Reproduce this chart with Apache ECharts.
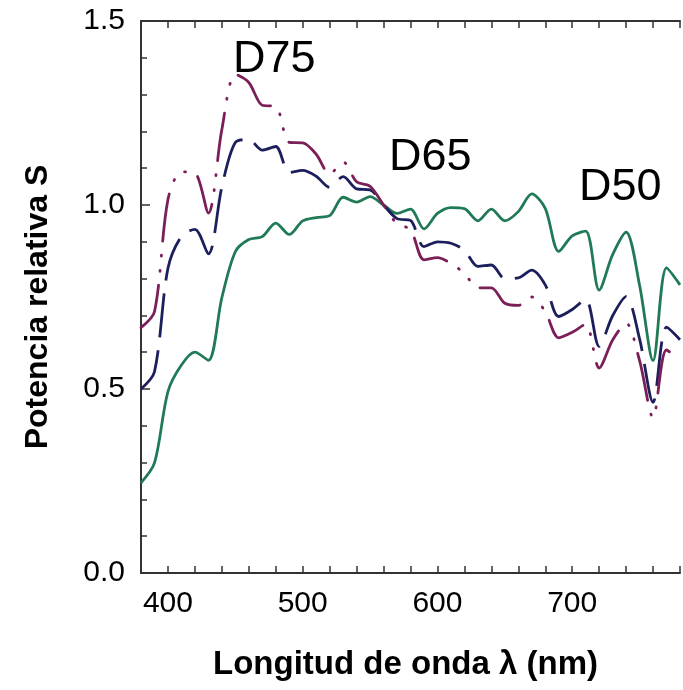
<!DOCTYPE html>
<html>
<head>
<meta charset="utf-8">
<script src="https://cdn.jsdelivr.net/npm/echarts@6/dist/echarts.min.js"></script>
<style>
html,body{margin:0;padding:0;background:#fff;}
#chart{width:683px;height:690px;}
</style>
</head>
<body>
<div id="chart"></div>
<script>
const wavelengths = [380,390,400,410,420,430,440,450,460,470,480,490,500,510,520,530,540,550,560,570,580,590,600,610,620,630,640,650,660,670,680,690,700,710,720,730,740,750,760,770,780];
const d50 = [0.245,0.299,0.493,0.565,0.600,0.578,0.748,0.873,0.906,0.914,0.951,0.920,0.957,0.966,0.971,1.021,1.008,1.023,1.000,0.977,0.989,0.935,0.977,0.993,0.990,0.957,0.989,0.957,0.982,1.030,0.991,0.874,0.916,0.929,0.769,0.865,0.926,0.782,0.577,0.829,0.783];
const d65 = [0.500,0.547,0.828,0.915,0.934,0.867,1.049,1.170,1.178,1.149,1.159,1.088,1.094,1.078,1.048,1.077,1.044,1.041,1.000,0.963,0.958,0.887,0.900,0.896,0.877,0.833,0.837,0.800,0.802,0.823,0.783,0.697,0.716,0.744,0.616,0.699,0.751,0.636,0.464,0.668,0.634];
const d75 = [0.667,0.710,1.015,1.090,1.087,0.978,1.205,1.355,1.333,1.271,1.268,1.170,1.169,1.138,1.084,1.117,1.063,1.051,1.000,0.949,0.933,0.851,0.857,0.841,0.814,0.775,0.775,0.733,0.727,0.750,0.710,0.639,0.654,0.676,0.557,0.633,0.679,0.577,0.422,0.606,0.578];
const yTicks = [0.0,0.5,1.0,1.5];
const xLabels = [400,500,600,700];
const seriesNames = ['D50','D65','D75'];

const pairs = arr => wavelengths.map((w,i)=>[w,arr[i]]);
const font = '"Liberation Sans", Arial, sans-serif';
const axisColor = '#333';

const chart = echarts.init(document.getElementById('chart'), null, {renderer:'canvas'});
chart.setOption({
  animation:false,
  backgroundColor:'#fff',
  grid:{left:141, top:21, width:552, height:552},
  xAxis:[{
    type:'value', min:380, max:780, interval:20, position:'bottom',
    axisLine:{show:true, lineStyle:{color:axisColor, width:2}},
    axisTick:{show:true, inside:true, length:7, lineStyle:{color:axisColor, width:1.5}},
    splitLine:{show:false},
    axisLabel:{interval:0, hideOverlap:false, margin:16, fontSize:30, color:'#000', fontFamily:font,
      formatter:v => xLabels.indexOf(v) >= 0 ? String(v) : ''},
    name:'Longitud de onda \u03bb (nm)', nameLocation:'middle', nameGap:75,
    nameTextStyle:{fontSize:33, fontWeight:'bold', color:'#000', fontFamily:font, padding:[0,10,0,0]}
  },{
    type:'value', min:380, max:780, interval:20, position:'top',
    axisLine:{show:true, lineStyle:{color:axisColor, width:2}},
    axisTick:{show:true, inside:true, length:7, lineStyle:{color:axisColor, width:1.5}},
    axisLabel:{show:false}, splitLine:{show:false}
  }],
  yAxis:{
    type:'value', min:0, max:1.5, interval:0.5,
    axisLine:{show:true, lineStyle:{color:axisColor, width:2}},
    axisTick:{show:true, inside:true, length:9, lineStyle:{color:axisColor, width:1.5}},
    minorTick:{show:true, splitNumber:5, length:6, lineStyle:{color:axisColor, width:1.5}},
    splitLine:{show:false},
    axisLabel:{margin:16, fontSize:30, color:'#000', fontFamily:font, formatter:v=>v.toFixed(1)}
  },
  series:[
    {name:seriesNames[0], type:'line', data:pairs(d50), showSymbol:false, smooth:0.3, xAxisIndex:0,
      lineStyle:{color:'#1f7a55', width:2.8}},
    {name:seriesNames[1], type:'line', data:pairs(d65), showSymbol:false, smooth:0.3, xAxisIndex:0,
      lineStyle:{color:'#1c1f5c', width:2.8, type:[44,13]}},
    {name:seriesNames[2], type:'line', data:pairs(d75), showSymbol:false, smooth:0.3, xAxisIndex:0,
      lineStyle:{color:'#7a1f58', width:2.8, type:[48,14,1,14,1,14], cap:'round'}}
  ],
  graphic:[
    {type:'text', x:38, y:307, rotation:Math.PI/2,
      style:{text:'Potencia relativa S', font:'bold 32px "Liberation Sans", Arial, sans-serif', fill:'#000', align:'center', verticalAlign:'middle'}},
    {type:'text', left:233, top:37, style:{text:'D75', font:'45px "Liberation Sans", Arial, sans-serif', fill:'#000'}},
    {type:'text', left:389, top:135, style:{text:'D65', font:'45px "Liberation Sans", Arial, sans-serif', fill:'#000'}},
    {type:'text', left:579, top:165, style:{text:'D50', font:'45px "Liberation Sans", Arial, sans-serif', fill:'#000'}}
  ]
});
</script>
</body>
</html>
